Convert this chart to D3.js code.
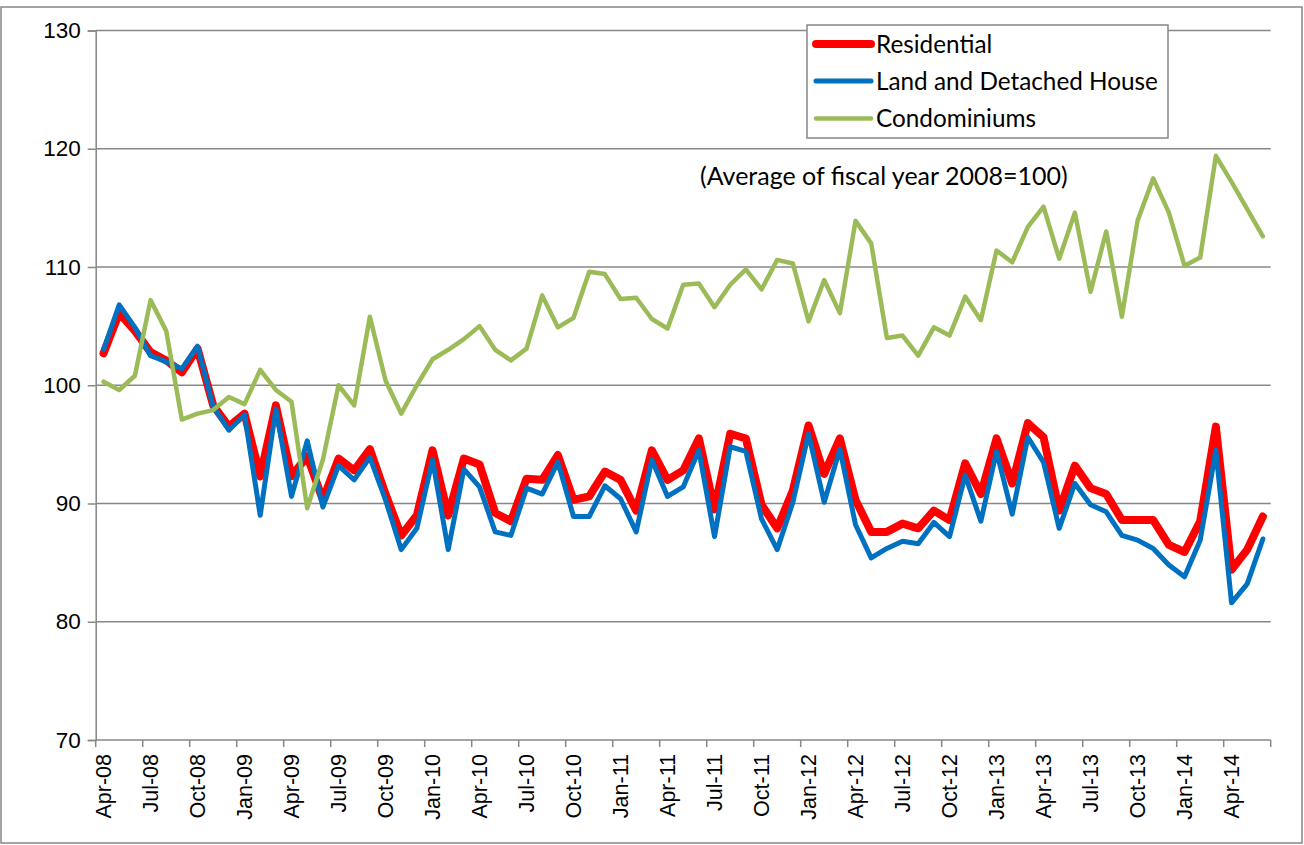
<!DOCTYPE html>
<html>
<head>
<meta charset="utf-8">
<script src="https://cdn.jsdelivr.net/npm/d3@7"></script>
<style>
  html, body { margin: 0; padding: 0; background: #fff; }
  svg { display: block; }
</style>
</head>
<body>
<svg id="chart" width="1304" height="845"></svg>
<script>
const categories = [
  "Apr-08","May-08","Jun-08","Jul-08","Aug-08","Sep-08","Oct-08","Nov-08","Dec-08",
  "Jan-09","Feb-09","Mar-09","Apr-09","May-09","Jun-09","Jul-09","Aug-09","Sep-09","Oct-09","Nov-09","Dec-09",
  "Jan-10","Feb-10","Mar-10","Apr-10","May-10","Jun-10","Jul-10","Aug-10","Sep-10","Oct-10","Nov-10","Dec-10",
  "Jan-11","Feb-11","Mar-11","Apr-11","May-11","Jun-11","Jul-11","Aug-11","Sep-11","Oct-11","Nov-11","Dec-11",
  "Jan-12","Feb-12","Mar-12","Apr-12","May-12","Jun-12","Jul-12","Aug-12","Sep-12","Oct-12","Nov-12","Dec-12",
  "Jan-13","Feb-13","Mar-13","Apr-13","May-13","Jun-13","Jul-13","Aug-13","Sep-13","Oct-13","Nov-13","Dec-13",
  "Jan-14","Feb-14","Mar-14","Apr-14","May-14","Jun-14"
];

const residential = [
  102.7,106.1,104.6,102.8,102.1,101.1,103.1,98.3,96.5,97.6,
  92.3,98.3,92.3,94.0,90.3,93.8,92.8,94.6,90.8,87.3,
  89.0,94.5,89.0,93.8,93.3,89.2,88.5,92.1,92.0,94.1,
  90.3,90.6,92.7,92.0,89.4,94.5,92.0,92.8,95.5,89.5,
  95.9,95.5,89.9,87.9,91.1,96.6,92.5,95.5,90.3,87.6,
  87.6,88.3,87.9,89.4,88.6,93.4,90.8,95.5,91.7,96.8,
  95.6,89.4,93.2,91.3,90.8,88.6,88.6,88.6,86.5,85.9,
  88.5,96.5,84.4,86.1,88.9
];

const landDetached = [
  103.0,106.8,104.9,102.5,102.0,101.4,103.3,98.2,96.2,97.5,
  89.0,98.0,90.6,95.3,89.7,93.2,92.0,93.9,90.3,86.1,
  87.9,93.7,86.1,92.9,91.4,87.6,87.3,91.3,90.8,93.5,
  88.9,88.9,91.5,90.4,87.6,93.7,90.6,91.4,94.5,87.2,
  94.8,94.4,88.7,86.1,90.1,95.9,90.1,94.6,88.2,85.4,
  86.2,86.8,86.6,88.4,87.2,92.4,88.5,94.4,89.1,95.6,
  93.5,87.9,91.7,89.9,89.3,87.3,86.9,86.2,84.8,83.8,
  86.9,94.5,81.6,83.2,87.0
];

const condominiums = [
  100.3,99.6,100.8,107.2,104.6,97.1,97.6,97.9,99.0,98.4,
  101.3,99.6,98.6,89.6,93.7,100.0,98.3,105.8,100.4,97.6,
  100.0,102.2,103.0,103.9,105.0,103.0,102.1,103.1,107.6,104.9,
  105.7,109.6,109.4,107.3,107.4,105.6,104.8,108.5,108.6,106.6,
  108.5,109.8,108.1,110.6,110.3,105.4,108.9,106.1,113.9,112.0,
  104.0,104.2,102.5,104.9,104.2,107.5,105.5,111.4,110.4,113.4,
  115.1,110.7,114.6,107.9,113.0,105.8,113.9,117.5,114.6,110.1,
  110.8,119.4,117.2,114.9,112.6
];

const yTicks = [70, 80, 90, 100, 110, 120, 130];
const seriesNames = ["Residential", "Land and Detached House", "Condominiums"];
const note = "(Average of fiscal year 2008=100)";

const series = [
  { name: seriesNames[0], values: residential,  color: "#FF0000", width: 8 },
  { name: seriesNames[1], values: landDetached, color: "#0070C0", width: 5 },
  { name: seriesNames[2], values: condominiums, color: "#9BBB59", width: 4.5 }
];

const svg = d3.select("#chart");
const plotL = 95.7, plotR = 1270.7, plotT = 30.5, plotB = 740;
const gridColor = "#878787";
const axisFont = "'Liberation Sans', Arial, sans-serif";
const textFont = "Lato, 'Open Sans', sans-serif";

// chart border
svg.append("rect")
  .attr("x", 1).attr("y", 7).attr("width", 1301).attr("height", 836)
  .attr("fill", "none").attr("stroke", gridColor).attr("stroke-width", 1.5);

const x = d3.scaleBand().domain(categories).range([plotL, plotR]).paddingInner(0).paddingOuter(0);
const y = d3.scaleLinear().domain([70, 130]).range([plotB, plotT]);
const cx = c => x(c) + x.bandwidth() / 2;

// gridlines
svg.append("g").selectAll("line").data(yTicks.filter(t => t !== 70)).join("line")
  .attr("x1", plotL).attr("x2", plotR)
  .attr("y1", d => y(d)).attr("y2", d => y(d))
  .attr("stroke", gridColor).attr("stroke-width", 1.5);

// y axis
const yAxis = d3.axisLeft(y).tickValues(yTicks).tickSize(8).tickPadding(7).tickFormat(d3.format("d"));
const gy = svg.append("g").attr("transform", `translate(${plotL},0)`).call(yAxis);
gy.select(".domain").attr("stroke", gridColor).attr("stroke-width", 1.5);
gy.selectAll(".tick line").attr("stroke", gridColor).attr("stroke-width", 1.5);
gy.selectAll(".tick text").attr("font-family", axisFont).attr("font-size", 22.5).attr("fill", "#000");

// x axis: ticks at band boundaries every 3 months, labels at category centres
const boundaryIdx = d3.range(0, categories.length + 1, 3);
const bx = i => i < categories.length ? x(categories[i]) : plotR;
const gx = svg.append("g");
gx.append("line").attr("x1", plotL).attr("x2", plotR).attr("y1", plotB).attr("y2", plotB)
  .attr("stroke", gridColor).attr("stroke-width", 1.5);
gx.selectAll("line.tk").data(boundaryIdx).join("line").attr("class", "tk")
  .attr("x1", bx).attr("x2", bx).attr("y1", plotB).attr("y2", plotB + 7)
  .attr("stroke", gridColor).attr("stroke-width", 1.5);
gx.selectAll("text").data(categories.filter((c, i) => i % 3 === 0)).join("text")
  .attr("transform", d => `translate(${cx(d)},${plotB + 14}) rotate(-90)`)
  .attr("text-anchor", "end").attr("dy", "0.35em")
  .attr("font-family", axisFont).attr("font-size", 21.5).attr("fill", "#000")
  .text(d => d);

// lines
const line = d3.line().x((d, i) => cx(categories[i])).y(d => y(d)).curve(d3.curveLinear);
svg.append("g").selectAll("path").data(series).join("path")
  .attr("d", s => line(s.values))
  .attr("fill", "none").attr("stroke", s => s.color).attr("stroke-width", s => s.width)
  .attr("stroke-linejoin", "round").attr("stroke-linecap", "round");

// note
svg.append("text").attr("x", 700).attr("y", 185)
  .attr("font-family", textFont).attr("font-size", 25).attr("fill", "#000")
  .text(note);

// legend
const lg = svg.append("g");
lg.append("rect").attr("x", 807).attr("y", 25).attr("width", 361).attr("height", 113)
  .attr("fill", "#fff").attr("stroke", gridColor).attr("stroke-width", 1.5);
const ly = [44, 81, 118.5];
series.forEach((s, i) => {
  lg.append("line").attr("x1", 816).attr("x2", 871).attr("y1", ly[i]).attr("y2", ly[i])
    .attr("stroke", s.color).attr("stroke-width", s.width).attr("stroke-linecap", "round");
  lg.append("text").attr("x", 876).attr("y", ly[i]).attr("dy", "0.35em")
    .attr("font-family", textFont).attr("font-size", 24.3).attr("fill", "#000")
    .text(s.name);
});
</script>
</body>
</html>
